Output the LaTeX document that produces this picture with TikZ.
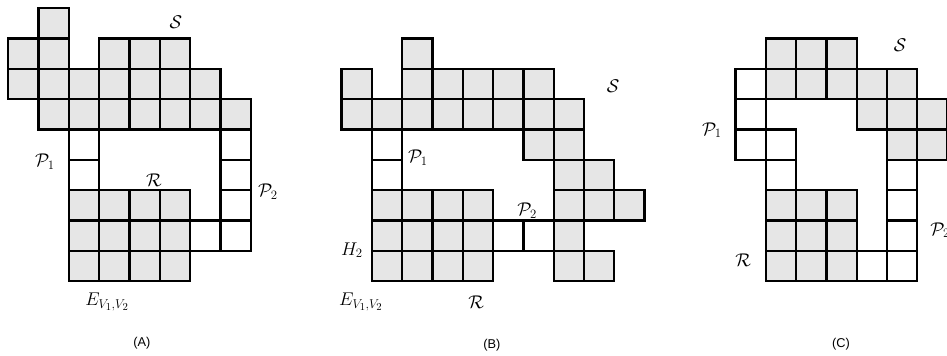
\documentclass[tikz,border=0pt]{standalone}
\usepackage{amsmath,amssymb}
\usepackage{fontspec}
\usepackage{xcolor}
\usepackage{tikz}
\usetikzlibrary{positioning,calc}
\newfontfamily\capfont{Liberation Sans}
\definecolor{cellgray}{RGB}{230,230,230}

% cells of each panel; #1 = style of region cells, #2 = style of path cells
\newcommand{\cellsA}[2]{%
  \foreach \c in {1} \path[#1] (\c,0) rectangle ++(1,-1);
  \foreach \c in {0,1,3,4,5} \path[#1] (\c,-1) rectangle ++(1,-1);
  \foreach \c in {0,...,6} \path[#1] (\c,-2) rectangle ++(1,-1);
  \foreach \c in {1,...,7} \path[#1] (\c,-3) rectangle ++(1,-1);
  \foreach \c in {2,7} \path[#2] (\c,-4) rectangle ++(1,-1);
  \foreach \c in {2,7} \path[#2] (\c,-5) rectangle ++(1,-1);
  \path[#2] (7,-6) rectangle ++(1,-1);
  \foreach \c in {6,7} \path[#2] (\c,-7) rectangle ++(1,-1);
  \foreach \r in {6,7,8}
    \foreach \c in {2,...,5} \path[#1] (\c,-\r) rectangle ++(1,-1);
}
\newcommand{\cellsB}[2]{%
  \path[#1] (2,-1) rectangle ++(1,-1);
  \foreach \c in {0,2,3,4,5,6} \path[#1] (\c,-2) rectangle ++(1,-1);
  \foreach \c in {0,...,7} \path[#1] (\c,-3) rectangle ++(1,-1);
  \foreach \c in {6,7} \path[#1] (\c,-4) rectangle ++(1,-1);
  \foreach \c in {7,8} \path[#1] (\c,-5) rectangle ++(1,-1);
  \foreach \c in {7,8,9} \path[#1] (\c,-6) rectangle ++(1,-1);
  \path[#1] (7,-7) rectangle ++(1,-1);
  \foreach \c in {7,8} \path[#1] (\c,-8) rectangle ++(1,-1);
  \foreach \r in {4,5} \path[#2] (1,-\r) rectangle ++(1,-1);
  \foreach \c in {5,6} \path[#2] (\c,-7) rectangle ++(1,-1);
  \foreach \r in {6,7,8}
    \foreach \c in {1,...,4} \path[#1] (\c,-\r) rectangle ++(1,-1);
}
\newcommand{\cellsC}[2]{%
  \foreach \c in {1,2,3} \path[#1] (\c,-1) rectangle ++(1,-1);
  \foreach \c in {1,...,5} \path[#1] (\c,-2) rectangle ++(1,-1);
  \foreach \c in {4,5,6} \path[#1] (\c,-3) rectangle ++(1,-1);
  \foreach \c in {5,6} \path[#1] (\c,-4) rectangle ++(1,-1);
  \foreach \r in {2,3,4} \path[#2] (0,-\r) rectangle ++(1,-1);
  \foreach \r in {4,5} \path[#2] (1,-\r) rectangle ++(1,-1);
  \foreach \r in {5,6,7,8} \path[#2] (5,-\r) rectangle ++(1,-1);
  \path[#2] (4,-8) rectangle ++(1,-1);
  \foreach \r in {6,7,8}
    \foreach \c in {1,2,3} \path[#1] (\c,-\r) rectangle ++(1,-1);
}

\begin{document}
\begin{tikzpicture}[
  x=1cm, y=1cm,
  fullfill/.style={fill=cellgray},
  pathfill/.style={fill=white},
  celledge/.style={draw=black, line width=2.1pt},
  lbl/.style={font=\LARGE, inner sep=0pt},
  caption/.style={font=\capfont\large, inner sep=0pt},
]
\useasboundingbox (-0.274,0.274) rectangle (30.98,-11.475);

%% ── Panel (A) ─────────────────────────────────────────────────────────────
\begin{scope}[shift={(0,0)}]
  \cellsA{fullfill}{pathfill}
  \cellsA{celledge}{celledge}
\end{scope}

\node[lbl] (SA) at (5.53,-0.45) {$\mathcal{S}$};
\node[lbl] (PoneA) at (1.21,-5.07) {$\mathcal{P}_1$};
\node[lbl] (RA) at (4.81,-5.67) {$\mathcal{R}$};
\node[lbl] (PtwoA) at (8.57,-6.06) {$\mathcal{P}_2$};
\node[lbl] (EA) at (3.26,-9.69) {$E_{V_1,V_2}$};
\node[caption] (capA) at (4.41,-11.05) {(A)};

%% ── Panel (B) ─────────────────────────────────────────────────────────────
\begin{scope}[shift={(11,0)}]
  \cellsB{fullfill}{pathfill}
  \cellsB{celledge}{celledge}
\end{scope}

\node[lbl] (SB) at (19.96,-2.56) {$\mathcal{S}$};
\node[lbl] (PoneB) at (13.52,-4.94) {$\mathcal{P}_1$};
\node[lbl] (PtwoB) at (17.12,-6.69) {$\mathcal{P}_2$};
\node[lbl] (HB) at (11.34,-7.98) {$H_2$};
\node[lbl] (EB) at (11.64,-9.69) {$E_{V_1,V_2}$};
\node[lbl] (RB) at (15.44,-9.69) {$\mathcal{R}$};
\node[caption] (capB) at (15.96,-11.11) {(B)};

%% ── Panel (C) ─────────────────────────────────────────────────────────────
\begin{scope}[shift={(24,0)}]
  \cellsC{fullfill}{pathfill}
  \cellsC{celledge}{celledge}
\end{scope}

\node[lbl] (SC) at (29.43,-1.21) {$\mathcal{S}$};
\node[lbl] (PoneC) at (23.22,-4.02) {$\mathcal{P}_1$};
\node[lbl, anchor=west] (PtwoC) at (30.42,-7.32) {$\mathcal{P}_2$};
\node[lbl] (RC) at (24.25,-8.31) {$\mathcal{R}$};
\node[caption] (capC) at (27.48,-11.08) {(C)};

\end{tikzpicture}
\end{document}
